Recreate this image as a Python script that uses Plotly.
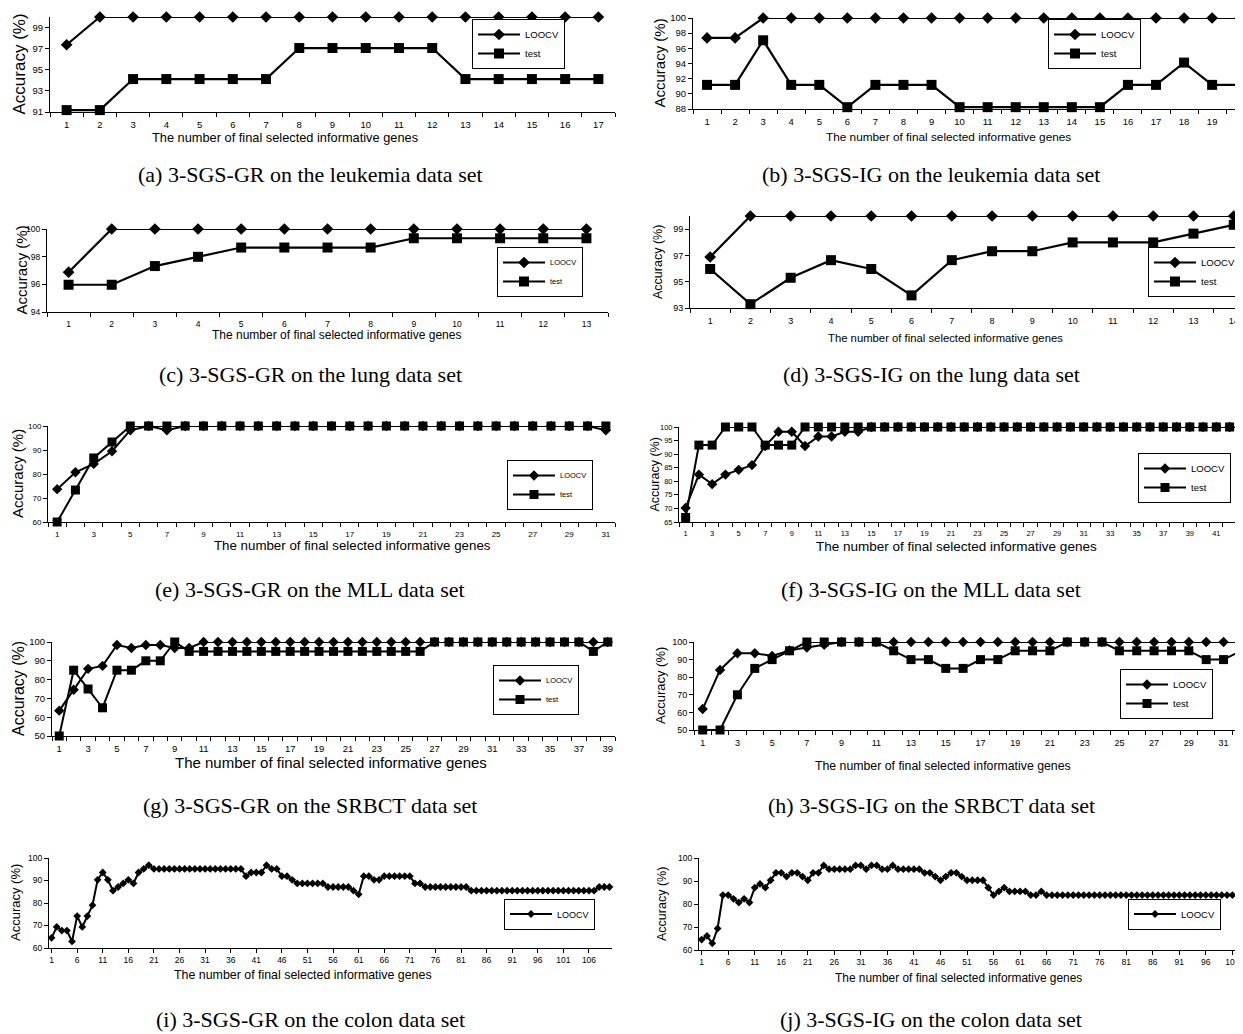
import plotly.graph_objects as go

# page is 1243x1034, plotly div sits inside the default 8px body margin
PW, PH, OFF = 1243, 1034, 8
FW, FH = PW - OFF, PH - OFF
SANS = "Liberation Sans, Arial, sans-serif"
SERIF = "Liberation Serif, Times New Roman, serif"

# ---------------- data ----------------
a_genes = list(range(1, 18))
a_loocv = [97.37, 100, 100, 100, 100, 100, 100, 100, 100, 100, 100, 100, 100, 100, 100, 100, 100]
a_test = [91.18, 91.18, 94.12, 94.12, 94.12, 94.12, 94.12, 97.06, 97.06, 97.06, 97.06, 97.06,
          94.12, 94.12, 94.12, 94.12, 94.12]
a_xticks = list(range(1, 18))
a_yticks = [91, 93, 95, 97, 99]

b_genes = list(range(1, 21))
b_loocv = [97.37, 97.37, 100, 100, 100, 100, 100, 100, 100, 100, 100, 100, 100, 100, 100, 100,
           100, 100, 100, 100]
b_test = [91.18, 91.18, 97.06, 91.18, 91.18, 88.24, 91.18, 91.18, 91.18, 88.24, 88.24, 88.24,
          88.24, 88.24, 88.24, 91.18, 91.18, 94.12, 91.18, 91.18]
b_xticks = list(range(1, 21))
b_yticks = [88, 90, 92, 94, 96, 98, 100]

c_genes = list(range(1, 14))
c_loocv = [96.88, 100, 100, 100, 100, 100, 100, 100, 100, 100, 100, 100, 100]
c_test = [95.97, 95.97, 97.32, 97.99, 98.66, 98.66, 98.66, 98.66, 99.33, 99.33, 99.33, 99.33, 99.33]
c_xticks = list(range(1, 14))
c_yticks = [94, 96, 98, 100]

d_genes = list(range(1, 15))
d_loocv = [96.88, 100, 100, 100, 100, 100, 100, 100, 100, 100, 100, 100, 100, 100]
d_test = [95.97, 93.29, 95.30, 96.64, 95.97, 93.96, 96.64, 97.32, 97.32, 97.99, 97.99, 97.99,
          98.66, 99.33]
d_xticks = list(range(1, 15))
d_yticks = [93, 95, 97, 99]

e_genes = list(range(1, 32))
e_loocv = [73.68, 80.70, 84.21, 89.47, 98.25, 100, 98.25, 100, 100, 100, 100, 100, 100, 100, 100,
           100, 100, 100, 100, 100, 100, 100, 100, 100, 100, 100, 100, 100, 100, 100, 98.25]
e_test = [60.00, 73.33, 86.67, 93.33, 100, 100, 100, 100, 100, 100, 100, 100, 100, 100, 100, 100,
          100, 100, 100, 100, 100, 100, 100, 100, 100, 100, 100, 100, 100, 100, 100]
e_xticks = list(range(1, 32, 2))
e_yticks = [60, 70, 80, 90, 100]

f_genes = list(range(1, 44))
f_loocv = [70.18, 82.46, 78.95, 82.46, 84.21, 85.96, 92.98, 98.25, 98.25, 92.98, 96.49, 96.49,
           98.25, 98.25, 100, 100, 100, 100, 100, 100, 100, 100, 100, 100, 100, 100, 100, 100,
           100, 100, 100, 100, 100, 100, 100, 100, 100, 100, 100, 100, 100, 100, 100]
f_test = [66.67, 93.33, 93.33, 100, 100, 100, 93.33, 93.33, 93.33, 100, 100, 100, 100, 100, 100,
          100, 100, 100, 100, 100, 100, 100, 100, 100, 100, 100, 100, 100, 100, 100, 100, 100,
          100, 100, 100, 100, 100, 100, 100, 100, 100, 100, 100]
f_xticks = list(range(1, 44, 2))
f_yticks = [65, 70, 75, 80, 85, 90, 95, 100]

g_genes = list(range(1, 40))
g_loocv = [63.49, 74.60, 85.71, 87.30, 98.41, 96.83, 98.41, 98.41, 96.83, 96.83, 100, 100, 100,
           100, 100, 100, 100, 100, 100, 100, 100, 100, 100, 100, 100, 100, 100, 100, 100, 100,
           100, 100, 100, 100, 100, 100, 100, 100, 100]
g_test = [50, 85, 75, 65, 85, 85, 90, 90, 100, 95, 95, 95, 95, 95, 95, 95, 95, 95, 95, 95, 95,
          95, 95, 95, 95, 95, 100, 100, 100, 100, 100, 100, 100, 100, 100, 100, 100, 95, 100]
g_xticks = list(range(1, 40, 2))
g_yticks = [50, 60, 70, 80, 90, 100]

h_genes = list(range(1, 33))
h_loocv = [61.90, 84.13, 93.65, 93.65, 92.06, 95.24, 96.83, 98.41, 100, 100, 100, 100, 100, 100,
           100, 100, 100, 100, 100, 100, 100, 100, 100, 100, 100, 100, 100, 100, 100, 100, 100, 100]
h_test = [50, 50, 70, 85, 90, 95, 100, 100, 100, 100, 100, 95, 90, 90, 85, 85, 90, 90, 95, 95,
          95, 100, 100, 100, 95, 95, 95, 95, 95, 90, 90, 95]
h_xticks = list(range(1, 33, 2))
h_yticks = [50, 60, 70, 80, 90, 100]

i_genes = list(range(1, 111))
i_loocv = [64.52, 69.35, 67.74, 67.74, 62.90, 74.19, 69.35, 74.19, 79.03, 90.32,
           93.55, 90.32, 85.48, 87.10, 88.71, 90.32, 88.71, 93.55, 95.16, 96.77,
           95.16, 95.16, 95.16, 95.16, 95.16, 95.16, 95.16, 95.16, 95.16, 95.16,
           95.16, 95.16, 95.16, 95.16, 95.16, 95.16, 95.16, 95.16, 91.94, 93.55,
           93.55, 93.55, 96.77, 95.16, 95.16, 91.94, 91.94, 90.32, 88.71, 88.71,
           88.71, 88.71, 88.71, 88.71, 87.10, 87.10, 87.10, 87.10, 87.10, 85.48,
           83.87, 91.94, 91.94, 90.32, 90.32, 91.94, 91.94, 91.94, 91.94, 91.94,
           91.94, 88.71, 88.71, 87.10, 87.10, 87.10, 87.10, 87.10, 87.10, 87.10,
           87.10, 87.10, 85.48, 85.48, 85.48, 85.48, 85.48, 85.48, 85.48, 85.48,
           85.48, 85.48, 85.48, 85.48, 85.48, 85.48, 85.48, 85.48, 85.48, 85.48,
           85.48, 85.48, 85.48, 85.48, 85.48, 85.48, 85.48, 87.10, 87.10, 87.10]
i_xticks = list(range(1, 107, 5))
i_yticks = [60, 70, 80, 90, 100]

j_genes = list(range(1, 104))
j_loocv = [64.52, 66.13, 62.90, 69.35, 83.87, 83.87, 82.26, 80.65, 82.26, 80.65,
           87.10, 88.71, 87.10, 90.32, 93.55, 93.55, 91.94, 93.55, 93.55, 91.94,
           90.32, 93.55, 93.55, 96.77, 95.16, 95.16, 95.16, 95.16, 95.16, 96.77,
           96.77, 95.16, 96.77, 96.77, 95.16, 95.16, 96.77, 95.16, 95.16, 95.16,
           95.16, 95.16, 93.55, 93.55, 91.94, 90.32, 91.94, 93.55, 93.55, 91.94,
           90.32, 90.32, 90.32, 90.32, 87.10, 83.87, 85.48, 87.10, 85.48, 85.48,
           85.48, 85.48, 83.87, 83.87, 85.48, 83.87, 83.87, 83.87, 83.87, 83.87,
           83.87, 83.87, 83.87, 83.87, 83.87, 83.87, 83.87, 83.87, 83.87, 83.87,
           83.87, 83.87, 83.87, 83.87, 83.87, 83.87, 83.87, 83.87, 83.87, 83.87,
           83.87, 83.87, 83.87, 83.87, 83.87, 83.87, 83.87, 83.87, 83.87, 83.87,
           83.87, 83.87, 83.87]
j_xticks = list(range(1, 102, 5))
j_yticks = [60, 70, 80, 90, 100]

captions = [
    "(a) 3-SGS-GR on the leukemia data set", "(b) 3-SGS-IG on the leukemia data set",
    "(c) 3-SGS-GR on the lung data set", "(d) 3-SGS-IG on the lung data set",
    "(e) 3-SGS-GR on the MLL data set", "(f) 3-SGS-IG on the MLL data set",
    "(g) 3-SGS-GR on the SRBCT data set", "(h) 3-SGS-IG on the SRBCT data set",
    "(i) 3-SGS-GR on the colon data set", "(j) 3-SGS-IG on the colon data set",
]
x_title = "The number of final selected informative genes"
y_title = "Accuracy (%)"

# ---------------- layout spec (page pixels) ----------------
# box: plot area; leg: (left x, centre y, font); ytt: (x centre, font); xtl: (x centre, y, font)
panels = [
    dict(g=a_genes, s=[("LOOCV", a_loocv), ("test", a_test)], xt=a_xticks, yt=a_yticks,
         box=(50, 17, 615, 112), yr=(91, 100), xr=(0.5, 17.5), minor=True, ms=9, tf=9.5,
         leg=(472, 44, 9.5), ytt=(19, 17), xtl=(285, 137, 12.8), cap=(310, 175)),
    dict(g=b_genes, s=[("LOOCV", b_loocv), ("test", b_test)], xt=b_xticks, yt=b_yticks,
         box=(693, 18, 1243, 109), yr=(88, 100), xr=(0.5, 20.1), minor=True, ms=9, tf=9.5,
         leg=(1048, 44, 9.5), ytt=(659, 15), xtl=(948, 137, 11.8), cap=(931, 175)),
    dict(g=c_genes, s=[("LOOCV", c_loocv), ("test", c_test)], xt=c_xticks, yt=c_yticks,
         box=(47, 229, 608, 312), yr=(94, 100), xr=(0.5, 13.5), minor=True, ms=9, tf=8.5,
         leg=(497, 272, 7.5), ytt=(21, 15), xtl=(336, 335, 12), cap=(310, 375)),
    dict(g=d_genes, s=[("LOOCV", d_loocv), ("test", d_test)], xt=d_xticks, yt=d_yticks,
         box=(690, 216, 1243, 308), yr=(93, 100), xr=(0.5, 14.23), minor=True, ms=9, tf=9,
         leg=(1148, 272, 9.5), ytt=(658, 12.5), xtl=(945, 338, 11.3), cap=(931, 375)),
    dict(g=e_genes, s=[("LOOCV", e_loocv), ("test", e_test)], xt=e_xticks, yt=e_yticks,
         box=(48, 426, 615, 522), yr=(60, 100), xr=(0.5, 31.5), minor=True, ms=8, tf=8,
         leg=(507, 485, 7.5), ytt=(17, 15), xtl=(352, 545, 13.3), cap=(310, 589)),
    dict(g=f_genes, s=[("LOOCV", f_loocv), ("test", f_test)], xt=f_xticks, yt=f_yticks,
         box=(679, 427, 1243, 522), yr=(65, 100), xr=(0.5, 43.01), minor=True, ms=8, tf=7.5,
         leg=(1138, 478, 9.5), ytt=(654, 12.5), xtl=(957, 546, 13.5), cap=(931, 589)),
    dict(g=g_genes, s=[("LOOCV", g_loocv), ("test", g_test)], xt=g_xticks, yt=g_yticks,
         box=(52, 642, 615, 736), yr=(50, 100), xr=(0.5, 39.5), minor=True, ms=8, tf=9.5,
         leg=(493, 690, 7.5), ytt=(18, 16), xtl=(331, 762, 15), cap=(310, 805)),
    dict(g=h_genes, s=[("LOOCV", h_loocv), ("test", h_test)], xt=h_xticks, yt=h_yticks,
         box=(694, 642, 1243, 730), yr=(50, 100), xr=(0.5, 32.12), minor=True, ms=8, tf=9,
         leg=(1120, 694, 9.5), ytt=(660, 13), xtl=(943, 766, 12.3), cap=(931, 805)),
    dict(g=i_genes, s=[("LOOCV", i_loocv)], xt=i_xticks, yt=i_yticks,
         box=(49, 858, 612, 948), yr=(60, 100), xr=(0.5, 110.5), minor=False, ms=6, tf=8.5,
         leg=(504, 914, 9), ytt=(15, 13), xtl=(303, 975, 12.4), cap=(310, 1019)),
    dict(g=j_genes, s=[("LOOCV", j_loocv)], xt=j_xticks, yt=j_yticks,
         box=(699, 858, 1243, 950), yr=(60, 100), xr=(0.5, 103.0), minor=False, ms=6, tf=8.5,
         leg=(1128, 914, 9.5), ytt=(662, 12.5), xtl=(958, 978, 11.9), cap=(931, 1019)),
]


def px(xp):
    return (xp - OFF) / FW


def py(yp):
    return 1 - (yp - OFF) / FH


fig = go.Figure()
annotations = []
layout = {}

for k, p in enumerate(panels, start=1):
    sfx = "" if k == 1 else str(k)
    x0, y0, x1, y1 = p["box"]
    leg_name = "legend" + sfx
    lw = 2.2 if k <= 4 else 2
    for name, vals in p["s"]:
        sym = "diamond" if name == "LOOCV" else "square"
        size = p["ms"] if sym == "diamond" else p["ms"] + 1
        fig.add_trace(go.Scatter(
            x=p["g"], y=vals, name=name, mode="lines+markers",
            line=dict(color="black", width=lw),
            marker=dict(symbol=sym, size=size, color="black"),
            xaxis="x" + sfx, yaxis="y" + sfx, legend=leg_name, cliponaxis=False,
            showlegend=True,
        ))
    n = len(p["g"])
    tfont = dict(family=SANS, size=p["tf"], color="black")
    xa = dict(domain=[px(x0), min(1.0, px(x1))], range=list(p["xr"]), anchor="y" + sfx,
              showline=True, linecolor="black", linewidth=1, showgrid=False, zeroline=False,
              tickmode="array", tickvals=p["xt"], ticktext=[str(t) for t in p["xt"]],
              tickfont=tfont, fixedrange=True, ticklabeloverflow="allow")
    if p["minor"]:
        xa.update(ticks="outside", ticklen=4, tickcolor="rgba(0,0,0,0)",
                  minor=dict(tickvals=[m + 0.5 for m in range(0, n + 1)], ticks="outside",
                             ticklen=4, tickcolor="black", tickwidth=1, showgrid=False))
    else:
        xa.update(ticks="outside", ticklen=4, tickcolor="black")
    ya = dict(domain=[py(y1), py(y0)], range=list(p["yr"]), anchor="x" + sfx,
              showline=True, linecolor="black", linewidth=1, showgrid=False, zeroline=False,
              tickmode="array", tickvals=p["yt"], ticks="outside", ticklen=4,
              tickcolor="black", tickfont=tfont, fixedrange=True)
    layout["xaxis" + sfx] = xa
    layout["yaxis" + sfx] = ya

    lx, ly, lf = p["leg"]
    layout[leg_name] = dict(
        x=px(lx), y=py(ly), xanchor="left", yanchor="middle", xref="paper", yref="paper",
        bgcolor="white", bordercolor="black", borderwidth=1,
        font=dict(family=SANS, size=lf, color="black"), itemwidth=42, tracegroupgap=0,
    )

    ytx, ytf = p["ytt"]
    annotations.append(dict(text=y_title, x=px(ytx), y=py((y0 + y1) / 2),
                            xref="paper", yref="paper", showarrow=False, textangle=-90,
                            font=dict(family=SANS, size=ytf, color="black"),
                            xanchor="center", yanchor="middle"))
    xtx, xty, xtf = p["xtl"]
    annotations.append(dict(text=x_title, x=px(xtx), y=py(xty),
                            xref="paper", yref="paper", showarrow=False,
                            font=dict(family=SANS, size=xtf, color="black"),
                            xanchor="center", yanchor="middle"))
    cx, cy = p["cap"]
    annotations.append(dict(text=captions[k - 1], x=px(cx), y=py(cy),
                            xref="paper", yref="paper", showarrow=False,
                            font=dict(family=SERIF, size=22, color="black"),
                            xanchor="center", yanchor="middle"))

fig.update_layout(
    width=FW, height=FH, margin=dict(l=0, r=0, t=0, b=0, autoexpand=False),
    paper_bgcolor="white", plot_bgcolor="white", annotations=annotations,
    **layout,
)

fig.write_html("out.html", config={"displayModeBar": False})
